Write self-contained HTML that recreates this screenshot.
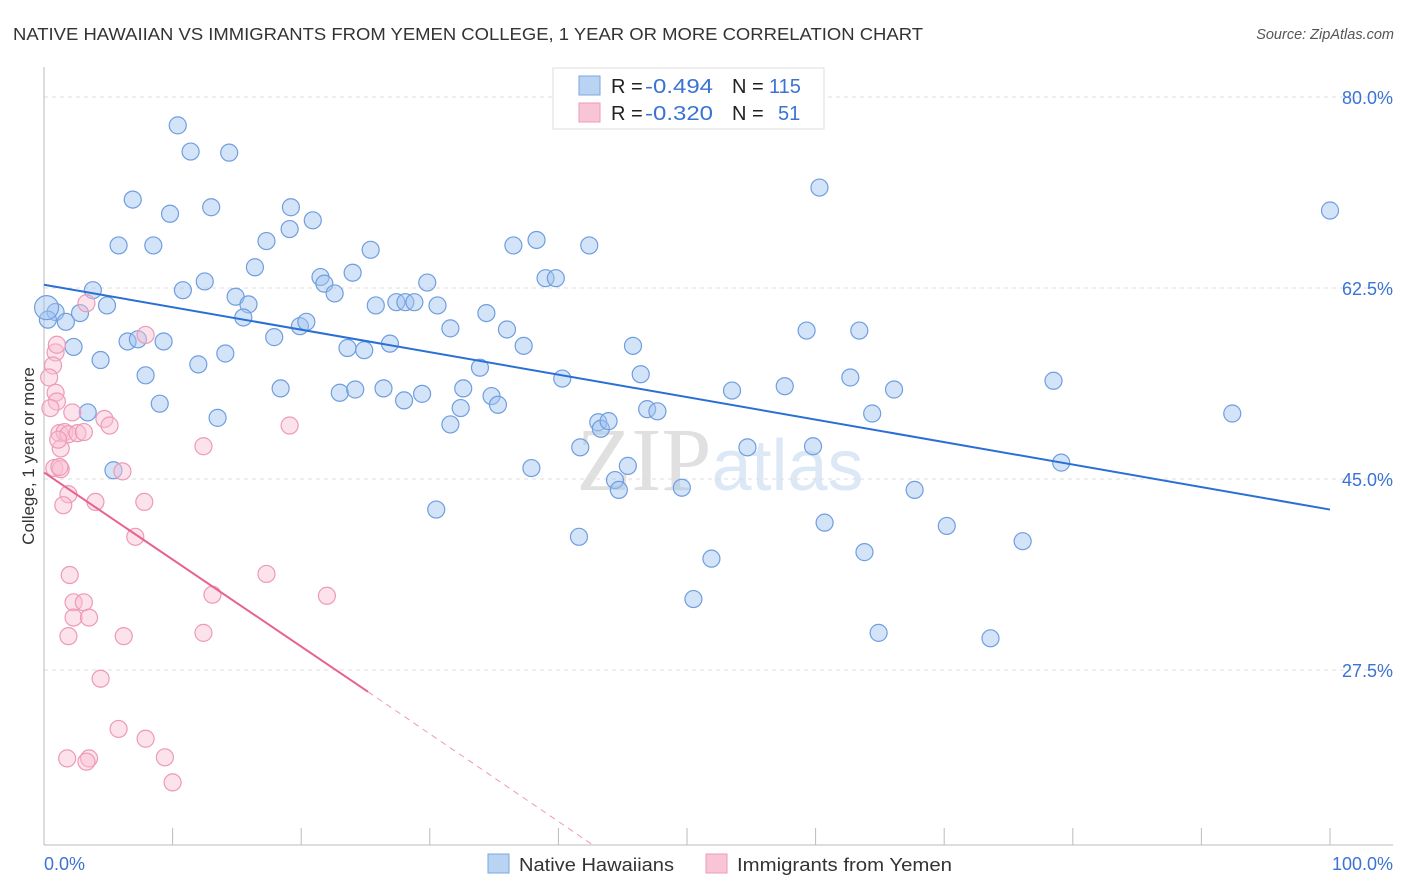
<!DOCTYPE html>
<html><head><meta charset="utf-8"><style>
body{margin:0;background:#fff;font-family:"Liberation Sans",sans-serif;}
svg{display:block}
</style></head><body>
<svg id="chart" width="1406" height="892">
<text x="13" y="40" font-size="17.5" fill="#333" textLength="910" lengthAdjust="spacingAndGlyphs">NATIVE HAWAIIAN VS IMMIGRANTS FROM YEMEN COLLEGE, 1 YEAR OR MORE CORRELATION CHART</text>
<text x="1394" y="39" font-size="14.5" fill="#555" font-style="italic" text-anchor="end">Source: ZipAtlas.com</text>
<text x="720" y="490" font-size="90" fill="#e6e6e6" text-anchor="middle" font-family="Liberation Serif,serif"><tspan fill="#e0e0e0">ZIP</tspan><tspan fill="#dce8f6" font-family="Liberation Sans,sans-serif" font-size="72">atlas</tspan></text>
<text transform="translate(34,456) rotate(-90)" font-size="17" fill="#333" text-anchor="middle">College, 1 year or more</text>
<g id="grid"></g><g id="pts"></g><g id="lines"></g>
<g>
<rect x="553" y="68" width="271" height="61" fill="#fff" stroke="#ddd"/>
<rect x="579" y="76" width="21" height="19" fill="#b9d3f3" stroke="#7aa7e0"/>
<rect x="579" y="103" width="21" height="19" fill="#f8c5d6" stroke="#ee9ab5"/>
<text x="611" y="93" font-size="20" fill="#222">R = <tspan x="645" fill="#3b73d4" textLength="68" lengthAdjust="spacingAndGlyphs">-0.494</tspan><tspan x="732">N = </tspan><tspan x="769" fill="#3b73d4">115</tspan></text>
<text x="611" y="120" font-size="20" fill="#222">R = <tspan x="645" fill="#3b73d4" textLength="68" lengthAdjust="spacingAndGlyphs">-0.320</tspan><tspan x="732">N = </tspan><tspan x="778" fill="#3b73d4">51</tspan></text>
</g>
<g>
<rect x="488" y="854" width="21" height="19" fill="#b9d3f3" stroke="#7aa7e0"/>
<text x="519" y="871" font-size="18" fill="#333" textLength="155" lengthAdjust="spacingAndGlyphs">Native Hawaiians</text>
<rect x="706" y="854" width="21" height="19" fill="#f8c5d6" stroke="#ee9ab5"/>
<text x="737" y="871" font-size="18" fill="#333" textLength="215" lengthAdjust="spacingAndGlyphs">Immigrants from Yemen</text>
</g>
</svg>
<script>
const yTicks=[80,62.5,45,27.5];
const xLabels=["0.0%","100.0%"];
const blueX=[10.4,11.4,14.4,6.9,9.8,13.0,19.2,19.1,20.9,5.8,8.5,17.3,25.4,16.4,21.5,24.0,12.5,10.8,3.8,14.9,15.9,21.8,22.6,4.9,2.8,0.9,1.7,0.3,15.5,19.9,20.4,17.9,6.5,7.3,9.3,2.3,4.4,14.1,12.0,7.9,9.0,3.4,13.5,5.4,25.8,27.4,28.1,28.8,30.6,29.8,31.6,34.4,36.0,37.3,23.6,24.9,26.9,18.4,23.0,24.2,26.4,28.0,29.4,32.6,32.4,34.8,35.3,31.6,33.9,36.5,38.3,42.4,39.0,39.8,40.3,37.9,41.7,43.1,43.3,43.9,45.8,46.4,46.9,47.7,45.4,44.4,44.7,49.6,30.5,41.6,51.9,50.5,53.5,54.7,57.6,59.3,59.8,60.3,60.7,62.7,63.4,64.4,66.1,63.8,64.9,67.7,70.2,73.6,76.1,78.5,79.1,92.4,100,0.2];
const blueY=[77.4,75.0,74.9,70.6,69.3,69.9,69.9,67.9,68.7,66.4,66.4,66.8,66.0,64.4,63.5,63.9,63.1,62.3,62.3,61.7,61.0,62.9,62.0,60.9,60.2,60.3,59.4,59.6,59.8,59.0,59.4,58.0,57.6,57.8,57.6,57.1,55.9,56.5,55.5,54.5,51.9,51.1,50.6,45.8,60.9,61.2,61.2,61.2,60.9,63.0,58.8,60.2,58.7,57.2,57.0,56.8,57.4,53.3,52.9,53.2,53.3,52.2,52.8,53.3,51.5,52.6,51.8,50.0,55.2,66.4,66.9,66.4,63.4,63.4,54.2,46.0,47.9,50.2,49.6,50.3,57.2,54.6,51.4,51.2,46.2,44.9,44.0,44.2,42.2,39.7,37.7,34.0,53.1,47.9,53.5,58.6,48.0,71.7,41.0,54.3,58.6,51.0,53.2,38.3,30.9,44.0,40.7,30.4,39.3,54.0,46.5,51.0,69.6,60.7];
const pinkX=[0.9,1.0,0.7,0.4,0.9,1.0,0.5,2.2,3.3,7.9,4.7,5.1,1.2,1.6,1.9,2.6,3.1,1.3,0.8,1.3,1.2,6.1,12.4,19.1,1.9,4.0,1.5,7.8,7.1,2.0,17.3,13.1,22.0,2.3,3.1,2.3,3.5,1.9,6.2,12.4,4.4,5.8,7.9,9.4,1.8,3.5,3.3,10.0,1.1];
const pinkY=[56.6,57.3,55.4,54.3,52.9,52.1,51.5,51.1,61.1,58.2,50.5,49.9,49.2,49.3,49.1,49.2,49.3,47.8,46.0,45.9,46.1,45.7,48.0,49.9,43.6,42.9,42.6,42.9,39.7,36.2,36.3,34.4,34.3,33.7,33.7,32.3,32.3,30.6,30.6,30.9,26.7,22.1,21.2,19.5,19.4,19.4,19.1,17.2,48.6];
const blueTrend=[62.8,42.2];
const pinkTrend=[45.6,25.5,11.45];
const pinkTrendX=[0,25.2,42.7];
const NS="http://www.w3.org/2000/svg";
const sx=v=>44+v*12.86, sy=v=>97+(80-v)*10.914;
function mk(t,a,p){const e=document.createElementNS(NS,t);for(const k in a)e.setAttribute(k,a[k]);p.appendChild(e);return e;}
const grid=document.getElementById('grid');
yTicks.forEach(t=>{
 const l=mk('line',{x1:44,x2:1393,y1:sy(t),y2:sy(t),stroke:'#ddd','stroke-dasharray':'4,4'},grid);
 
 
 const tx=mk('text',{x:1393,y:sy(t)+7,'font-size':18,fill:'#3b73d4','text-anchor':'end'},grid);
 tx.textContent=t.toFixed(1)+'%';
 
 
});
mk('line',{x1:44,x2:44,y1:67,y2:845,stroke:'#bbb'},grid);
mk('line',{x1:44,x2:1393,y1:845,y2:845,stroke:'#bbb'},grid);
for(let i=1;i<=10;i++){mk('line',{x1:sx(i*10),x2:sx(i*10),y1:828,y2:845,stroke:'#bbb'},grid);}
xLabels.forEach((s,i)=>{
 const tx=mk('text',{x:i?1393:44,y:870,'font-size':18,fill:'#3b73d4','text-anchor':i?'end':'start'},grid);
 tx.textContent=s;
 
 
});
const pts=document.getElementById('pts');
blueX.forEach((x,i)=>{
 const c=mk('circle',{cx:sx(x),cy:sy(blueY[i]),r:i===blueX.length-1?12:8.5,fill:'rgba(160,195,240,0.45)',stroke:'#6f9ee0','stroke-width':1.2},pts);
 
 
});
pinkX.forEach((x,i)=>{
 const c=mk('circle',{cx:sx(x),cy:sy(pinkY[i]),r:8.5,fill:'rgba(248,190,210,0.45)',stroke:'#ee9ab5','stroke-width':1.2},pts);
 
 
});
const ln=document.getElementById('lines');
const b=mk('line',{x1:sx(0),y1:sy(blueTrend[0]),x2:sx(100),y2:sy(blueTrend[1]),stroke:'#2a6fd6','stroke-width':2},ln);


const p=mk('line',{x1:sx(pinkTrendX[0]),y1:sy(pinkTrend[0]),x2:sx(pinkTrendX[1]),y2:sy(pinkTrend[1]),stroke:'#e8628f','stroke-width':2},ln);


const pd=mk('line',{x1:sx(pinkTrendX[1]),y1:sy(pinkTrend[1]),x2:sx(pinkTrendX[2]),y2:sy(pinkTrend[2]),stroke:'#ee9ab5','stroke-width':1,'stroke-dasharray':'6,5'},ln);


</script>
</body></html>
